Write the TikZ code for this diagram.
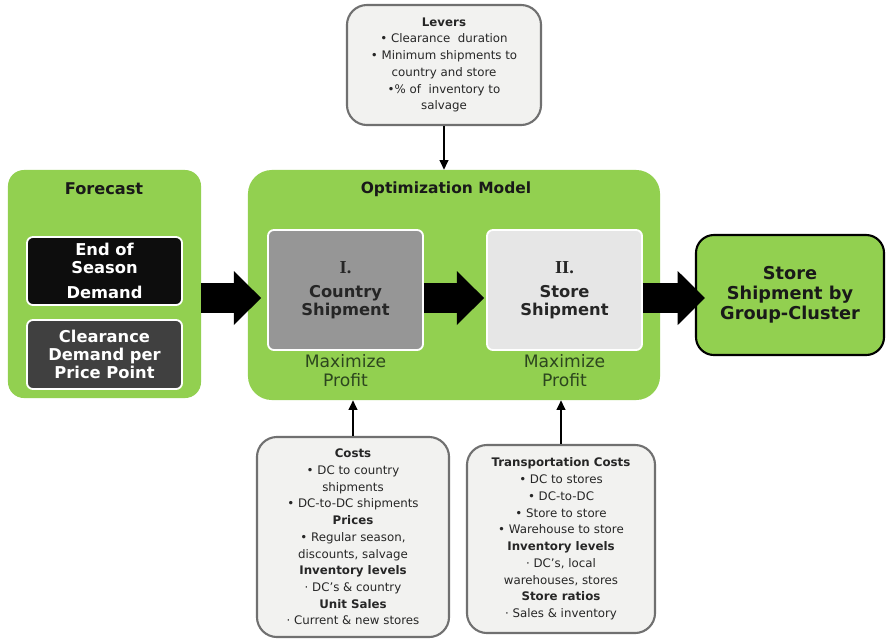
\documentclass[tikz,border=0pt]{standalone}
\usepackage{fontspec}
\setmainfont{DejaVu Sans}
\newfontfamily\romfont{Liberation Serif}
\usepackage{tikz}
\usetikzlibrary{positioning,arrows.meta}
\definecolor{panelgreen}{RGB}{146,208,80}
\definecolor{notefill}{RGB}{242,242,240}
\definecolor{noteline}{RGB}{112,112,112}
\definecolor{darkblock}{RGB}{64,64,64}
\definecolor{midblock}{RGB}{150,150,150}
\definecolor{lightblock}{RGB}{230,230,230}
\definecolor{profitgreen}{RGB}{44,70,30}
\tikzset{
  panel/.style={rectangle,rounded corners=0.4cm,fill=panelgreen,draw=none},
  paneltitle/.style={font=\fontsize{11.5}{13}\selectfont\bfseries,text=black!90,inner sep=0pt},
  block/.style={rectangle,rounded corners=0.15cm,draw=white,line width=1.3pt,align=center,font=\fontsize{11.6}{12.6}\selectfont\bfseries,minimum width=3.875cm,inner sep=2pt},
  profit/.style={align=center,font=\fontsize{12.2}{14}\selectfont,text=profitgreen,inner sep=1pt},
  outbox/.style={rectangle,rounded corners=0.45cm,fill=panelgreen,draw=black,line width=1.5pt,align=center,font=\fontsize{12.6}{14.4}\selectfont\bfseries,text=black!90},
  notebox/.style={rectangle,rounded corners=0.5cm,fill=notefill,draw=noteline,line width=1.5pt,align=center,text=black!85,font=\fontsize{8.4}{11.9}\selectfont,inner sep=2pt},
  thinedge/.style={-{Triangle[length=2.4mm,width=2.2mm]},line width=1pt,black},
  bigedge/.style={-{Triangle[length=0.68cm,width=1.35cm,line width=0pt]},line width=0.75cm,black}
}
\begin{document}
\begin{tikzpicture}[x=0.025cm,y=-0.025cm]
  \useasboundingbox (0,0) rectangle (886,640);

  % green containers
  \node[panel,minimum width=4.825cm,minimum height=5.7cm] (fcast) at (104.5,284) {};
  \node[panel,minimum width=10.3cm,minimum height=5.75cm,rounded corners=0.6cm] (optim) at (454,285) {};
  \node[paneltitle] (fcasttitle) at (104,189) {Forecast};
  \node[paneltitle,font=\fontsize{11}{13}\selectfont\bfseries] (optimtitle) at (446,189) {Optimization Model};

  % forecast inputs
  \node[block,fill=black!95,text=white,minimum height=1.7cm] (eos) at (104.5,271) {End of\\Season\\[5pt]Demand};
  \node[block,fill=darkblock,text=white!92,minimum height=1.725cm] (clear) at (104.5,354.5) {Clearance\\Demand per\\Price Point};

  % model stages
  \node[block,fill=midblock,text=black!85,minimum height=3cm] (country) at (345.5,290) {{\romfont\fontsize{13}{13}\selectfont I.}\\[5pt]Country\\Shipment};
  \node[block,fill=lightblock,text=black!85,minimum height=3cm] (store) at (564.5,290) {{\romfont\fontsize{13}{13}\selectfont II.}\\[5pt]Store\\Shipment};
  \node[profit,below=1pt of country] (profit1) {Maximize\\Profit};
  \node[profit,below=1pt of store] (profit2) {Maximize\\Profit};

  % output
  \node[outbox,minimum width=4.7cm,minimum height=3cm] (result) at (790,295) {Store\\Shipment by\\Group-Cluster};

  % side inputs
  \node[notebox,minimum width=4.85cm,minimum height=3cm] (levers) at (444,65) {\textbf{Levers}\\
    • Clearance\ \ duration\\
    • Minimum shipments to\\
    country and store\\
    •\% of\ \ inventory to\\
    salvage};
  \node[notebox,minimum width=4.8cm,minimum height=5cm] (costs) at (353,537) {\textbf{Costs}\\
    • DC to country\\
    shipments\\
    • DC-to-DC shipments\\
    \textbf{Prices}\\
    • Regular season,\\
    discounts, salvage\\
    \textbf{Inventory levels}\\
    · DC’s \& country\\
    \textbf{Unit Sales}\\
    · Current \& new stores};
  \node[notebox,minimum width=4.7cm,minimum height=4.7cm] (transp) at (561,539) {\textbf{Transportation Costs}\\
    • DC to stores\\
    • DC-to-DC\\
    • Store to store\\
    • Warehouse to store\\
    \textbf{Inventory levels}\\
    · DC’s, local\\
    warehouses, stores\\
    \textbf{Store ratios}\\
    · Sales \& inventory};

  % flow
  \coordinate (flowline) at (0,298);
  \draw[bigedge,shorten >=0.15cm] (fcast.east |- flowline) -- (country.west |- flowline);
  \draw[bigedge,shorten >=0.05cm] (country.east |- flowline) -- (store.west |- flowline);
  \draw[bigedge,shorten >=-0.25cm] (store.east |- flowline) -- (result.west |- flowline);

  \draw[thinedge] (levers) -- (levers.south |- optim.north);
  \draw[thinedge] (costs) -- (costs.north |- optim.south);
  \draw[thinedge] (transp) -- (transp.north |- optim.south);
\end{tikzpicture}
\end{document}
